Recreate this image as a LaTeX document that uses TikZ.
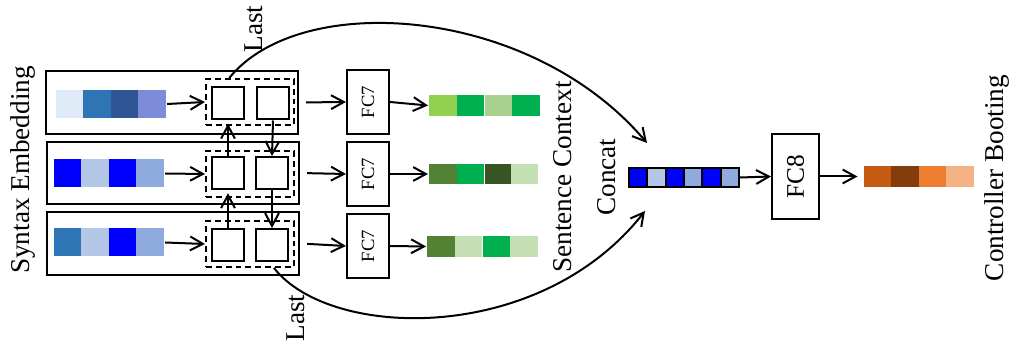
\documentclass[tikz,border=0pt]{standalone}
\usepackage{fontspec}
\setmainfont{Liberation Serif}
\usetikzlibrary{arrows.meta}
\definecolor{embpale}{HTML}{DEEAF6}
\definecolor{embmid}{HTML}{2E75B6}
\definecolor{embdark}{HTML}{2F5597}
\definecolor{embviolet}{HTML}{7C8CDB}
\definecolor{emblight}{HTML}{B4C7E7}
\definecolor{embsoft}{HTML}{8FAADC}
\definecolor{ctxlime}{HTML}{92D050}
\definecolor{ctxgreen}{HTML}{00B050}
\definecolor{ctxsage}{HTML}{A9D18E}
\definecolor{ctxolive}{HTML}{548235}
\definecolor{ctxdark}{HTML}{375623}
\definecolor{ctxpale}{HTML}{C5E0B4}
\definecolor{bootrust}{HTML}{C55A11}
\definecolor{bootbrown}{HTML}{843C0C}
\definecolor{bootorange}{HTML}{ED7D31}
\definecolor{bootpeach}{HTML}{F4B183}
\begin{document}
\begin{tikzpicture}[x=0.375pt,y=-0.375pt,line width=0.75pt,
    >={Straight Barb[length=4.8pt,width=5.2pt]}]
      \useasboundingbox (0,0) rectangle (1016,345);
      \tikzstyle{row}=[draw,minimum width=94.8pt,minimum height=23.6pt,inner sep=0]
      \tikzstyle{group}=[draw,dash pattern=on 2.2pt off 1.5pt,minimum width=33pt,minimum height=17.2pt,inner sep=0]
      \tikzstyle{cell}=[draw,minimum size=12pt,inner sep=0]
      \tikzstyle{fc}=[draw,minimum width=24pt,minimum height=15.8pt,inner sep=0,font=\fontsize{7}{8}\selectfont,rotate=90]
      \tikzstyle{emb}=[minimum width=10.4pt,minimum height=10.5pt,inner sep=0]
      \tikzstyle{ctx}=[minimum width=10.4pt,minimum height=7.6pt,inner sep=0]
      \tikzstyle{cat}=[draw,minimum width=6.9pt,minimum height=7.1pt,inner sep=0]
      \tikzstyle{label}=[rotate=90,inner sep=0,font=\fontsize{10.2}{12}\selectfont]
      % rows
      \node[row] (r1) at (172,102.5) {};
      \node[row] (r2) at (173,173) {};
      \node[row] (r3) at (173,243.5) {};
      % embeddings
      \node[emb,fill=embpale] (e11) at (69.75,104) {};
      \node[emb,fill=embmid] (e12) at (97.25,104) {};
      \node[emb,fill=embdark] (e13) at (124.75,104) {};
      \node[emb,fill=embviolet] (e14) at (152.25,104) {};
      \node[emb,fill=blue] (e21) at (67.75,173.5) {};
      \node[emb,fill=emblight] (e22) at (95.25,173.5) {};
      \node[emb,fill=blue] (e23) at (122.75,173.5) {};
      \node[emb,fill=embsoft] (e24) at (150.25,173.5) {};
      \node[emb,fill=embmid] (e31) at (67.75,242.5) {};
      \node[emb,fill=emblight] (e32) at (95.25,242.5) {};
      \node[emb,fill=blue] (e33) at (122.75,242.5) {};
      \node[emb,fill=embsoft] (e34) at (150.25,242.5) {};
      % recurrent cells
      \node[group] (g1) at (250,102) {};
      \node[group] (g2) at (250,174) {};
      \node[group] (g3) at (250,244) {};
      \node[cell] (a1) at (228,103.5) {};
      \node[cell] (b1) at (273,103.5) {};
      \node[cell] (a2) at (228,173) {};
      \node[cell] (b2) at (272,173) {};
      \node[cell] (a3) at (228,245) {};
      \node[cell] (b3) at (272,245) {};
      % fully connected
      \node[fc] (f1) at (368,102) {FC7};
      \node[fc] (f2) at (368,174) {FC7};
      \node[fc] (f3) at (368,246) {FC7};
      % sentence context
      \node[ctx,fill=ctxlime] (c11) at (442.9,105.5) {};
      \node[ctx,fill=ctxgreen] (c12) at (470.6,105.5) {};
      \node[ctx,fill=ctxsage] (c13) at (498.4,105.5) {};
      \node[ctx,fill=ctxgreen] (c14) at (526.1,105.5) {};
      \node[ctx,fill=ctxolive] (c21) at (442.9,174) {};
      \node[ctx,fill=ctxgreen] (c22) at (470.6,174) {};
      \node[ctx,fill=ctxdark] (c23) at (498.4,174) {};
      \node[ctx,fill=ctxpale] (c24) at (524.6,174) {};
      \node[ctx,fill=ctxolive] (c31) at (440.9,246.5) {};
      \node[ctx,fill=ctxpale] (c32) at (468.6,246.5) {};
      \node[ctx,fill=ctxgreen] (c33) at (496.4,246.5) {};
      \node[ctx,fill=ctxpale] (c34) at (524.1,246.5) {};
      % concat
      \node[cat,fill=blue] (k1) at (638.2,177.5) {};
      \node[cat,fill=emblight] (k2) at (656.5,177.5) {};
      \node[cat,fill=blue] (k3) at (674.8,177.5) {};
      \node[cat,fill=embsoft] (k4) at (693.2,177.5) {};
      \node[cat,fill=blue] (k5) at (711.5,177.5) {};
      \node[cat,fill=embsoft] (k6) at (729.8,177.5) {};
      \node[fc,minimum width=31.9pt,minimum height=17.6pt,font=\fontsize{9.5}{11}\selectfont] (f8) at (795.5,176.5) {FC8};
      % controller booting
      \node[ctx,minimum height=7.9pt,fill=bootrust] (o1) at (877.75,176.5) {};
      \node[ctx,minimum height=7.9pt,fill=bootbrown] (o2) at (905.25,176.5) {};
      \node[ctx,minimum height=7.9pt,fill=bootorange] (o3) at (932.75,176.5) {};
      \node[ctx,minimum height=7.9pt,fill=bootpeach] (o4) at (960.25,176.5) {};
      % labels
      \node[label] (syn) at (23,170) {Syntax Embedding};
      \node[label] (sen) at (563,177) {Sentence Context};
      \node[label] (cc) at (607,177) {Concat};
      \node[label] (ctl) at (997,178) {Controller Booting};
      \node[label] (lt) at (254,29) {Last};
      \node[label] (lb) at (296,318) {Last};
      \coordinate (tin) at (647,143);
      \coordinate (bin) at (645,211);
      \draw[->] (e14.east) -- (g1.west);
      \draw[->] (e24.east) -- (g2.west);
      \draw[->] (e34.east) -- (g3.west);
      \draw[->,shorten >=1.2pt] (a2.north) -- (a1.south);
      \draw[->,shorten >=1.2pt] (a3.north) -- (a2.south);
      \draw[->] (b1.south) -- (b2.north);
      \draw[->] (b2.south) -- (b3.north);
      \draw[->,shorten <=2.5pt] (r1.east) -- (f1.north);
      \draw[->,shorten <=2.5pt] (r2.east) -- (f2.north);
      \draw[->,shorten <=2.5pt] (r3.east) -- (f3.north);
      \draw[->] (f1.south) -- (c11.west);
      \draw[->] (f2.south) -- (c21.west);
      \draw[->] (f3.south) -- (c31.west);
      \draw[->] (k6.east) -- (f8.north);
      \draw[->,shorten >=2pt] (f8.south) -- (o1.west);
      \draw[->] (g1.131) .. controls (300,-10) and (530,5) .. (tin);
      \draw[->] (g3.-45) .. controls (330,340) and (540,345) .. (bin);
      \end{tikzpicture}
\end{document}
